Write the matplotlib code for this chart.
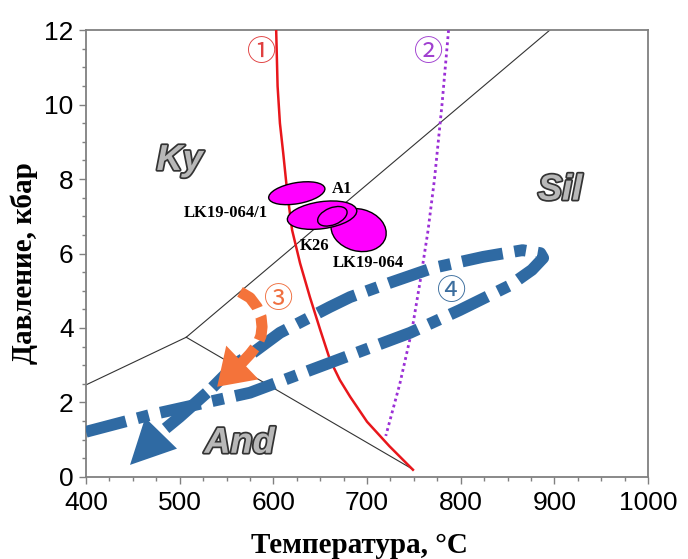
import matplotlib
matplotlib.use('Agg')
import matplotlib.pyplot as plt
import matplotlib.transforms as mtransforms
import matplotlib.patheffects as pe
from matplotlib.patches import Ellipse
from matplotlib.ticker import MultipleLocator

# --- data ---
# Al2SiO5 triple point and phase boundaries
tp = (507, 3.75)
ky_sil_end = (895, 12.0)
and_ky_end = (400, 2.47)
and_sil_end = (749, 0.2)

# (1) red curve
red_t = [603, 604.5, 607, 610.5, 615, 620, 628.5, 639, 650, 660.5, 671, 682, 700, 724, 749]
red_p = [12.0, 10.5, 9.5, 8.7, 7.6, 6.63, 5.74, 4.83, 3.95, 3.14, 2.6, 2.15, 1.48, 0.82, 0.19]

# (2) purple dotted curve
pur_t = [787, 780, 772, 765, 757, 748, 735, 720]
pur_p = [12.0, 10.0, 8.0, 6.6, 5.3, 3.95, 2.5, 1.1]

# (3) orange path
or_t = [564.4, 575.1, 582.6, 586.8, 587.9, 586.8, 582.6, 575.1, 564.4]
or_p = [4.97, 4.81, 4.56, 4.30, 4.03, 3.79, 3.54, 3.30, 3.01]
or_tip = (540, 2.42)

# (4) blue P-T path (dash-dot part, then solid shaft to the arrow)
bl_t = [400, 468, 575, 660, 746, 799, 853, 876, 888, 885, 866, 824, 770, 724, 682, 660, 607, 578, 561, 535]
bl_p = [1.21, 1.66, 2.26, 3.06, 3.87, 4.48, 5.15, 5.56, 5.88, 6.01, 6.09, 5.91, 5.61, 5.21, 4.83, 4.56, 3.87, 3.33, 3.06, 2.4]
shaft_t = [529, 500, 485]
shaft_p = [2.26, 1.61, 1.3]
bl_tip = (447, 0.32)

# samples
samples = ['LK19-064', 'LK19-064/1', 'K26', 'A1']
samp_t = [691, 652, 663, 625]
samp_p = [6.63, 7.03, 7.0, 7.62]
samp_w = [0.56, 0.70, 0.31, 0.57]   # inches
samp_h = [0.42, 0.27, 0.17, 0.21]
samp_a = [-15, 8, 22, 10]
# sample labels
lab_txt = ['A1', 'LK19-064/1', 'K26', 'LK19-064']
lab_t = [662.6, 594.3, 628.5, 663.7]
lab_p = [7.73, 7.09, 6.2, 5.74]
lab_ha = ['left', 'right', 'left', 'left']

blue = '#2f6aa3'
orange = '#f4733a'

plt.rcParams['font.family'] = ['Liberation Sans', 'DejaVu Sans']

fig = plt.figure(figsize=(6.88, 5.59), dpi=100)
ax = fig.add_axes([0.125, 0.147, 0.817, 0.799])

# phase boundaries
ax.plot([tp[0], ky_sil_end[0]], [tp[1], ky_sil_end[1]], color='#333333', lw=0.8, zorder=2)
ax.plot([tp[0], and_ky_end[0]], [tp[1], and_ky_end[1]], color='#333333', lw=0.8, zorder=2)
ax.plot([tp[0], and_sil_end[0]], [tp[1], and_sil_end[1]], color='#333333', lw=0.8, zorder=2)

# (1), (2)
ax.plot(red_t, red_p, color='#e8161b', lw=1.8, zorder=3)
ax.plot(pur_t, pur_p, color='#9b2fd6', lw=2.0, linestyle=(0, (1, 1.2)), zorder=3)

# ellipses
for t, p, w, h, a in zip(samp_t, samp_p, samp_w, samp_h, samp_a):
    trans = fig.dpi_scale_trans + mtransforms.ScaledTranslation(t, p, ax.transData)
    e = Ellipse((0, 0), w, h, angle=a, transform=trans, facecolor='#ff00ff',
                edgecolor='black', lw=1.0, zorder=5)
    ax.add_patch(e)

for s, t, p, ha in zip(lab_txt, lab_t, lab_p, lab_ha):
    ax.text(t, p, s, ha=ha, va='center', fontsize=12, fontweight='bold',
            family=['Liberation Serif'], zorder=6)

# blue path
ax.plot(bl_t, bl_p, color=blue, lw=8.5, linestyle=(0, (3.5, 1, 1, 1)),
        solid_capstyle='butt', dash_capstyle='butt', zorder=4)
ax.plot(shaft_t, shaft_p, color=blue, lw=8.5, solid_capstyle='butt', zorder=4)
ax.annotate('', xy=bl_tip, xytext=(shaft_t[-1], shaft_p[-1]),
            arrowprops=dict(arrowstyle='-|>,head_length=1.0,head_width=0.5',
                            mutation_scale=32, color=blue, lw=0, shrinkA=0, shrinkB=0),
            zorder=4)

# orange path
ax.plot(or_t, or_p, color=orange, lw=8, linestyle=(0, (2.2, 0.8)),
        dash_capstyle='butt', zorder=4)
ax.annotate('', xy=or_tip, xytext=(or_t[-1], or_p[-1]),
            arrowprops=dict(arrowstyle='-|>,head_length=0.9,head_width=0.6',
                            mutation_scale=28, color=orange, lw=0, shrinkA=0, shrinkB=0),
            zorder=4)

# circled numbers
num = dict(fontsize=21, family=['Noto Sans CJK JP', 'DejaVu Sans'], ha='center', va='center', zorder=6)
ax.text(587, 11.4, '\u2460', color='#e04040', **num)
ax.text(766, 11.4, '\u2461', color='#a040d0', **num)
ax.text(606, 4.75, '\u2462', color='#f07040', **num)
ax.text(790, 4.97, '\u2463', color='#3c6e9e', **num)

# phase labels
ph = dict(fontsize=26, fontweight='bold', style='italic', color='#b8b8b8',
          ha='center', va='center', zorder=6,
          path_effects=[pe.withStroke(linewidth=2.5, foreground='#333333')])
ax.text(500, 8.5, 'Ky', **ph)
ax.text(906, 7.7, 'Sil', **ph)
ax.text(564, 0.9, 'And', **ph)

ax.set_xlim(400, 1000)
ax.set_ylim(0, 12)
ax.xaxis.set_major_locator(MultipleLocator(100))
ax.xaxis.set_minor_locator(MultipleLocator(25))
ax.yaxis.set_major_locator(MultipleLocator(2))
ax.yaxis.set_minor_locator(MultipleLocator(0.5))
ax.tick_params(which='major', direction='out', length=5, width=1, color='#808080', labelsize=19)
ax.tick_params(axis='x', which='major', pad=5)
ax.tick_params(axis='y', which='major', pad=4)
ax.tick_params(which='minor', direction='out', length=3, width=1, color='#808080')
for s in ax.spines.values():
    s.set_color('#808080')
    s.set_linewidth(1.3)

ax.set_xlabel('Температура, °C', fontsize=21, fontweight='bold', family=['Liberation Serif'], va='center')
ax.set_ylabel('Давление, кбар', fontsize=21, fontweight='bold', family=['Liberation Serif'], va='center')
ax.xaxis.set_label_coords(0.486, -0.154)
ax.yaxis.set_label_coords(-0.109, 0.479)

fig.savefig('out.png', dpi=100)
